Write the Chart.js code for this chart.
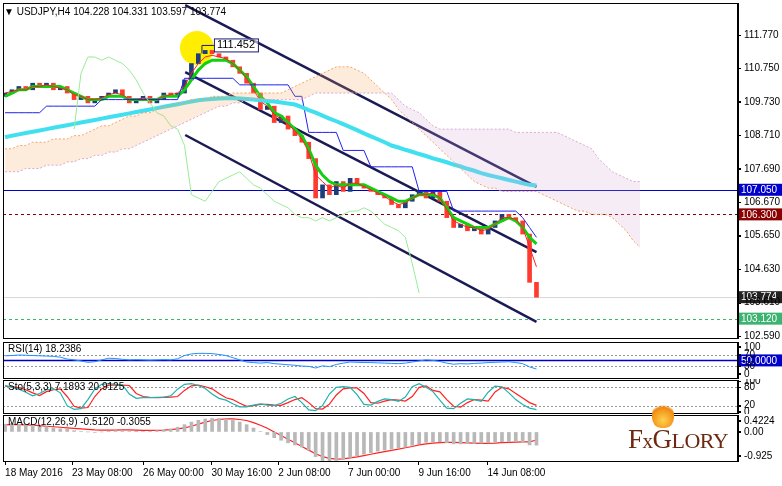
<!DOCTYPE html>
<html><head><meta charset="utf-8">
<script src="https://cdn.jsdelivr.net/npm/chart.js@4"></script>
<style>
body{margin:0;width:782px;height:486px;background:#fff;overflow:hidden;position:relative;font-family:"Liberation Sans",Arial,sans-serif}
canvas{position:absolute;left:0}
#logo{position:absolute;left:628px;top:424px;font-family:"Liberation Serif",serif;color:#6b2a10;font-size:27px;letter-spacing:-0.5px}
#flame{position:absolute;left:652px;top:402px;width:22px;height:26px;border-radius:50% 50% 40% 40%;background:radial-gradient(circle at 50% 70%,#ffd050,#f08a10 60%,rgba(240,138,16,0) 72%)}
</style></head><body>
<canvas id="cMain" width="782" height="340" style="top:0"></canvas>
<canvas id="cRsi" width="782" height="39" style="top:340px"></canvas>
<canvas id="cSto" width="782" height="35" style="top:379px"></canvas>
<canvas id="cMacd" width="782" height="72" style="top:414px"></canvas>
<div id="flame"></div>
<div id="logo">F<span style="font-size:21px">x</span>G<span style="font-size:22px">LORY</span></div>
<script>
const titleText="USDJPY,H4 104.228 104.331 103.597 103.774";
const priceTicks=[102.59,103.61,104.63,105.65,106.67,107.69,108.71,109.73,110.75,111.77];
const timeLabels=["18 May 2016","23 May 08:00","26 May 00:00","30 May 16:00","2 Jun 08:00","7 Jun 00:00","9 Jun 16:00","14 Jun 08:00"];
const timeLabelIdx=[0,9.7,20,29.9,39.6,49.7,59.9,69.9];
const closes=[110.0,110.1,110.2,110.1,110.3,110.2,110.3,110.1,110.2,110.0,109.8,109.9,109.7,109.8,109.9,110.0,110.1,109.9,109.7,109.8,109.9,109.7,109.8,110.0,109.9,110.0,110.4,110.9,111.2,111.3,111.2,111.1,111.0,110.8,110.6,110.3,110.0,109.5,109.6,109.1,109.3,108.9,108.7,108.5,108.0,106.8,107.2,106.9,107.3,107.0,107.4,107.2,107.1,107.0,106.9,106.8,106.6,106.5,106.7,106.9,107.0,106.8,107.0,106.7,106.2,105.9,106.0,105.8,105.9,105.7,105.9,106.1,106.3,106.2,106.1,105.7,104.228,103.774];
const opens=[109.9,110.0,110.1,110.2,110.1,110.3,110.2,110.3,110.1,110.2,110.0,109.8,109.9,109.7,109.8,109.9,110.0,110.1,109.9,109.7,109.8,109.9,109.7,109.8,110.0,109.9,110.0,110.4,110.9,111.2,111.3,111.2,111.1,111.0,110.8,110.6,110.3,110.0,109.5,109.6,109.1,109.3,108.9,108.7,108.5,108.0,106.8,107.2,106.9,107.3,107.0,107.4,107.2,107.1,107.0,106.9,106.8,106.6,106.5,106.7,106.9,107.0,106.8,107.0,106.7,106.2,105.9,106.0,105.8,105.9,105.7,105.9,106.1,106.3,106.2,106.1,105.7,104.228];
const maFast=[109.9,110.0,110.1,110.1,110.2,110.2,110.2,110.2,110.2,110.1,110.0,109.9,109.8,109.8,109.8,109.9,109.9,109.9,109.8,109.8,109.8,109.8,109.8,109.9,109.9,109.9,110.1,110.4,110.7,110.9,111.0,111.0,111.0,110.9,110.7,110.5,110.2,109.9,109.7,109.4,109.3,109.1,108.9,108.7,108.3,107.8,107.5,107.3,107.2,107.2,107.2,107.2,107.2,107.1,107.0,106.9,106.8,106.7,106.7,106.8,106.9,106.9,106.9,106.8,106.5,106.2,106.1,106.0,105.9,105.9,105.9,106.0,106.1,106.2,106.1,105.9,105.6,105.4];
const maRed=[110.0,110.05,110.1,110.1,110.2,110.2,110.25,110.2,110.15,110.1,109.95,109.9,109.8,109.8,109.85,109.95,110.0,109.95,109.8,109.8,109.85,109.8,109.8,109.9,109.95,110.0,110.2,110.6,110.9,111.1,111.15,111.1,111.05,110.9,110.7,110.45,110.1,109.75,109.6,109.35,109.2,109.05,108.85,108.6,108.2,107.5,107.3,107.1,107.2,107.1,107.25,107.25,107.15,107.05,106.95,106.85,106.7,106.6,106.65,106.8,106.9,106.9,106.95,106.8,106.45,106.1,106.0,105.9,105.9,105.8,105.85,106.0,106.2,106.2,106.15,105.9,105.3,104.7];
const kijun=[109.4,109.4,109.4,109.4,109.4,109.4,109.6,109.6,109.6,109.6,109.6,109.6,109.6,109.6,109.8,109.8,109.8,109.8,109.8,109.8,109.8,109.8,109.8,109.8,109.8,109.8,110.45,110.45,110.45,110.45,110.45,110.45,110.45,110.45,110.25,110.25,110.25,110.25,110.25,110.25,110.25,110.25,109.9,109.9,108.8,108.8,108.8,108.8,108.8,108.25,108.25,108.25,108.25,107.75,107.75,107.75,107.75,107.75,107.75,107.75,107.0,107.0,107.0,107.0,107.0,106.4,106.4,106.4,106.4,106.4,106.4,106.4,106.4,106.4,106.4,106.2,105.9,105.6];
const maSlow=[108.65,108.70,108.74,108.78,108.82,108.86,108.90,108.94,108.98,109.02,109.06,109.10,109.14,109.18,109.22,109.26,109.30,109.34,109.38,109.42,109.46,109.50,109.54,109.58,109.62,109.66,109.70,109.74,109.78,109.80,109.82,109.83,109.84,109.84,109.83,109.82,109.80,109.78,109.76,109.74,109.71,109.68,109.65,109.57,109.48,109.40,109.31,109.22,109.14,109.05,108.96,108.87,108.77,108.68,108.59,108.50,108.40,108.34,108.27,108.21,108.14,108.08,108.01,107.95,107.89,107.82,107.76,107.69,107.63,107.56,107.50,107.45,107.40,107.35,107.30,107.25,107.20,107.18];
const chikou=[null,null,null,null,null,null,null,null,null,null,108.9,110.6,111.1,111.1,111.0,111.1,111.0,110.9,110.7,110.4,110.0,109.7,109.4,109.3,109.0,108.9,108.4,106.9,106.8,106.7,107.0,107.3,107.4,107.5,107.6,107.4,107.2,107.1,106.9,106.7,106.6,106.5,106.3,106.2,106.2,106.1,106.2,106.1,106.2,106.3,106.4,106.4,106.5,106.4,106.2,106.0,105.9,105.8,105.6,104.8,103.9];
const spanA=[108.3,108.3,108.4,108.4,108.5,108.5,108.5,108.6,108.6,108.6,108.7,108.7,108.8,108.9,109.0,109.0,109.1,109.2,109.3,109.3,109.4,109.4,109.5,109.6,109.6,109.7,109.7,109.8,109.8,109.8,109.9,109.9,109.9,110.0,110.0,110.0,110.0,110.0,110.0,110.0,110.0,110.1,110.2,110.3,110.4,110.5,110.6,110.7,110.8,110.8,110.8,110.7,110.6,110.4,110.2,110.0,109.8,109.5,109.3,109.1,108.9,108.7,108.5,108.3,108.1,107.9,107.7,107.5,107.3,107.2,107.1,107.1,107.0,107.0,107.0,107.0,107.0,107.0,106.9,106.8,106.7,106.6,106.5,106.4,106.4,106.3,106.3,106.3,106.2,106.0,105.8,105.5,105.3];
const spanB=[107.6,107.6,107.6,107.7,107.7,107.7,107.8,107.8,107.8,107.9,107.9,108.0,108.0,108.1,108.1,108.2,108.2,108.3,108.3,108.4,108.5,108.6,108.7,108.8,108.9,109.0,109.1,109.2,109.3,109.4,109.5,109.6,109.6,109.7,109.7,109.8,109.8,109.8,109.8,109.8,109.8,109.8,109.8,109.8,109.9,110.0,110.0,110.0,110.0,110.0,110.0,110.0,110.0,110.0,110.0,110.0,110.0,109.8,109.6,109.5,109.4,109.2,109.0,108.9,108.9,108.9,108.9,108.9,108.9,108.9,108.9,108.9,108.9,108.9,108.8,108.8,108.8,108.8,108.8,108.8,108.8,108.7,108.6,108.5,108.4,108.3,108.0,107.8,107.6,107.5,107.4,107.3,107.3];
const chUpper=[[26.1,112.68],[77,107.14]];
const chMiddle=[[26.1,110.64],[77,105.15]];
const chLower=[[26.1,108.72],[77,103.02]];
const levels=[{v:107.05,c:"#0000cc",dash:[],box:"#0000cc",t:"107.050"},{v:106.30,c:"#8b0000",dash:[3,3],box:"#8b0000",t:"106.300"},{v:103.774,c:"#d8d8d8",dash:[],box:"#222",t:"103.774"},{v:103.12,c:"#3cb371",dash:[3,3],box:"#3cb371",t:"103.120"}];
const peak={i:27.8,v:111.37,label:"111.452",lv:111.452};
const rsiTicks=[100,70,30,0];
const rsi=[67,68,70,69,68,67,66,65,62,55,52,48,43,45,52,58,57,54,52,53,52,51,52,53,52,56,68,74,76,76,75,72,68,60,52,44,42,40,42,38,36,34,32,29,28,22,30,27,35,40,44,43,42,42,41,40,39,38,40,44,48,52,50,46,40,36,38,37,39,40,42,43,44,45,42,38,26,18.2];
const stoTicks=[100,80,20,0];
const stoD=[84,82,79,72,62,53,66,72,75,50,18,12,14,50,75,87,88,87,86,60,50,47,46,47,48,50,70,85,87,82,75,60,46,40,28,18,20,24,24,22,21,30,40,46,30,10,9,25,55,75,78,78,60,30,28,35,40,38,35,50,80,85,70,65,40,18,15,30,40,38,35,65,80,75,60,45,30,20.9];
const stoK=[86,80,74,64,52,60,72,76,62,20,8,10,40,74,90,92,90,88,58,44,46,46,47,48,52,74,90,92,86,76,58,44,38,26,16,16,22,26,22,20,28,42,50,30,6,4,20,58,80,82,80,56,24,22,34,42,40,34,48,82,92,80,66,38,12,10,28,42,40,34,64,84,82,62,40,24,12,7.2];
const macdTicks=[0.4224,0,-0.925];
const macdHist=[0.30,0.32,0.30,0.28,0.25,0.22,0.20,0.15,0.12,0.10,0.05,0.02,0.0,-0.02,0.0,0.03,0.05,0.04,0.02,0.01,0.02,0.03,0.05,0.08,0.12,0.18,0.28,0.38,0.45,0.50,0.52,0.52,0.50,0.46,0.38,0.28,0.15,0.02,-0.10,-0.22,-0.32,-0.42,-0.50,-0.58,-0.70,-0.95,-1.10,-1.12,-1.10,-1.05,-0.98,-0.92,-0.86,-0.80,-0.74,-0.70,-0.66,-0.62,-0.58,-0.52,-0.46,-0.40,-0.38,-0.38,-0.42,-0.46,-0.46,-0.45,-0.44,-0.43,-0.42,-0.40,-0.38,-0.36,-0.36,-0.40,-0.50,-0.51];
const macdSignal=[0.27,0.28,0.28,0.27,0.26,0.24,0.22,0.20,0.18,0.16,0.14,0.12,0.10,0.08,0.07,0.07,0.07,0.08,0.08,0.07,0.06,0.06,0.06,0.07,0.09,0.12,0.16,0.22,0.30,0.38,0.44,0.48,0.50,0.50,0.48,0.44,0.36,0.26,0.14,0.0,-0.14,-0.28,-0.42,-0.56,-0.70,-0.84,-0.95,-1.02,-1.05,-1.04,-1.0,-0.96,-0.91,-0.86,-0.81,-0.76,-0.71,-0.66,-0.61,-0.56,-0.50,-0.46,-0.43,-0.41,-0.40,-0.40,-0.41,-0.42,-0.43,-0.44,-0.44,-0.43,-0.41,-0.40,-0.39,-0.38,-0.38,-0.31];

const XMIN=-0.3,XMAX=106.2,FONT={family:"Liberation Sans",size:10};
const pts=a=>a.map((v,i)=>({x:i,y:v}));
const seg=a=>a.map(p=>({x:p[0],y:p[1]}));
function yScale(min,max,ticks){return{position:'right',min,max,afterFit:s=>{s.width=44},afterBuildTicks:s=>{s.ticks=ticks.map(v=>({value:v}))},
 ticks:{display:false},grid:{drawOnChartArea:false,color:'#000',tickLength:3},border:{color:'#000'}};}
function yLabels(ticks,fmt){return{id:'ylab',afterDraw(ch){const y=ch.scales.y,g=ch.ctx;g.save();g.font='10px "Liberation Sans"';g.fillStyle='#000';g.textBaseline='middle';g.textAlign='left';
 ticks.forEach(v=>{const p=y.getPixelForValue(v);g.fillText(fmt(v),ch.chartArea.right+6,p);g.fillRect(ch.chartArea.right,Math.round(p),3,1);});g.restore();}};}
function xHidden(){return{type:'linear',min:XMIN,max:XMAX,offset:false,display:false};}
const frame={id:'frame',afterDraw(ch){const a=ch.chartArea,g=ch.ctx;g.save();g.strokeStyle='#000';g.lineWidth=1;g.strokeRect(a.left+0.5,a.top+0.5,a.right-a.left-1,a.bottom-a.top);g.restore();}};
function textPlugin(txt){return{id:'txt',afterDraw(ch){const g=ch.ctx;g.save();g.font='10px "Liberation Sans"';g.fillStyle='#000';g.textBaseline='top';g.fillText(txt,8,ch.chartArea.top+2);g.restore();}};}
function boxLabel(g,y,t,bg,fg){g.fillStyle=bg;g.fillRect(739,y-6,43,12);g.fillStyle=fg;g.font='10px "Liberation Sans"';g.textBaseline='middle';g.textAlign='left';g.fillText(t,741,y+0.5);}
const line=(data,col,w,extra)=>Object.assign({type:'line',data,borderColor:col,borderWidth:w,pointRadius:0,fill:false,tension:0},extra||{});
const baseOpts=(pad,scales)=>({responsive:false,animation:false,layout:{padding:pad},plugins:{legend:{display:false},tooltip:{enabled:false}},scales});

const mainOverlay={id:'mainOverlay',
 beforeDatasetsDraw(ch){const y=ch.scales.y,a=ch.chartArea,g=ch.ctx;g.save();
  levels.forEach(l=>{const p=Math.round(y.getPixelForValue(l.v))+0.5;g.strokeStyle=l.c;g.lineWidth=1;g.setLineDash(l.dash);g.beginPath();g.moveTo(a.left,p);g.lineTo(a.right,p);g.stroke();});
  g.setLineDash([]);const x=ch.scales.x;g.fillStyle='#ffee00';g.beginPath();g.arc(x.getPixelForValue(peak.i),y.getPixelForValue(peak.v),17,0,Math.PI*2);g.fill();g.restore();},
 afterDraw(ch){const y=ch.scales.y,x=ch.scales.x,g=ch.ctx;g.save();
  levels.forEach(l=>boxLabel(g,y.getPixelForValue(l.v),l.t,l.box,'#fff'));
  const py=y.getPixelForValue(peak.lv),px=x.getPixelForValue(peak.i);
  g.strokeStyle='#1a1a7a';g.lineWidth=1;g.beginPath();g.moveTo(px+5,py+8);g.lineTo(px+5,py);g.lineTo(px+17,py);g.stroke();
  g.fillStyle='rgba(255,255,255,0.6)';g.fillRect(px+17,py-7,44,13);g.strokeRect(px+17.5,py-6.5,44,13);
  g.fillStyle='#000';g.font='11px "Liberation Sans"';g.textBaseline='middle';g.fillText(peak.label,px+20,py);
  g.font='10px "Liberation Sans"';g.fillStyle='#000';g.textBaseline='top';g.fillText('▼ '+titleText,4,7);
  g.restore();}};
const candleColors=closes.map((c,i)=>c>=opens[i]?'#1f3d7a':'#ff3b2f');
new Chart(document.getElementById('cMain'),{
 data:{datasets:[
  line(pts(spanA),'#f4a460',1,{borderDash:[2,2],fill:{target:'+1',above:'rgba(244,164,96,0.22)',below:'rgba(216,168,216,0.22)'}}),
  line(pts(spanB),'#d8a8d8',1,{borderDash:[2,2]}),
  line(pts(chikou),'#98ec98',1),
  line(pts(maSlow),'#40e0f0',4),
  line(pts(kijun),'#2020ee',1),
  line(pts(maRed),'#ff2020',1),
  line(pts(maFast),'#10d010',3),
  {type:'bar',data:closes.map((c,i)=>({x:i,y:[opens[i],c]})),backgroundColor:candleColors,barThickness:4,grouped:false},
  line(seg(chUpper),'#1a1a55',2.5),
  line(seg(chMiddle),'#1a1a55',2.5),
  line(seg(chLower),'#1a1a55',2.5)
 ]},
 options:baseOpts({left:3,top:3,bottom:2},{x:xHidden(),y:yScale(102.53,112.746,priceTicks)}),
 plugins:[frame,mainOverlay,yLabels(priceTicks,v=>v.toFixed(3))]});

const rsiPlug={id:'rsiPlug',beforeDatasetsDraw(ch){const y=ch.scales.y,a=ch.chartArea,g=ch.ctx;g.save();
  [70,30].forEach(v=>{const p=Math.round(y.getPixelForValue(v))+0.5;g.strokeStyle='#999';g.setLineDash([2,2]);g.beginPath();g.moveTo(a.left,p);g.lineTo(a.right,p);g.stroke();});
  g.setLineDash([]);const p=Math.round(y.getPixelForValue(50))+0.5;g.strokeStyle='#0000cc';g.lineWidth=1.5;g.beginPath();g.moveTo(a.left,p);g.lineTo(a.right,p);g.stroke();g.restore();},
 afterDraw(ch){boxLabel(ch.ctx,ch.scales.y.getPixelForValue(50),'50.0000','#0000cc','#fff');}};
new Chart(document.getElementById('cRsi'),{data:{datasets:[line(pts(rsi),'#1e90ff',1)]},
 options:baseOpts({left:3,top:2,bottom:1},{x:xHidden(),y:yScale(-15,118,rsiTicks)}),
 plugins:[frame,rsiPlug,yLabels(rsiTicks,v=>String(v)),textPlugin('RSI(14) 18.2386')]});

const stoPlug={id:'stoPlug',beforeDatasetsDraw(ch){const y=ch.scales.y,a=ch.chartArea,g=ch.ctx;g.save();
  [80,20].forEach(v=>{const p=Math.round(y.getPixelForValue(v))+0.5;g.strokeStyle='#999';g.setLineDash([2,2]);g.beginPath();g.moveTo(a.left,p);g.lineTo(a.right,p);g.stroke();});g.restore();}};
new Chart(document.getElementById('cSto'),{data:{datasets:[line(pts(stoK),'#20b2aa',1.2),line(pts(stoD),'#ff2020',1.2)]},
 options:baseOpts({left:3,top:1,bottom:1},{x:xHidden(),y:yScale(-4,104,stoTicks)}),
 plugins:[frame,stoPlug,yLabels(stoTicks,v=>String(v)),textPlugin('Sto(5,3,3) 7.1893 20.9125')]});

new Chart(document.getElementById('cMacd'),{data:{datasets:[
  {type:'bar',data:pts(macdHist),backgroundColor:'#b8b8b8',barThickness:3,grouped:false},
  line(pts(macdSignal),'#ff2020',1.2)]},
 options:baseOpts({left:3,top:1,bottom:0},{x:{type:'linear',min:XMIN,max:XMAX,offset:false,afterFit:s=>{s.height=25},afterBuildTicks:s=>{s.ticks=timeLabelIdx.map(v=>({value:v}))},
    ticks:{font:FONT,color:'#000',align:'start',maxRotation:0,autoSkip:false,padding:2,callback:(v,i)=>timeLabels[i]},
    grid:{drawOnChartArea:false,offset:false,color:'#000',tickLength:4},border:{color:'#000'}},
   y:yScale(-1.12,0.653,macdTicks)}),
 plugins:[frame,yLabels(macdTicks,v=>v===0?'0.00':String(v)),textPlugin('MACD(12,26,9) -0.5120 -0.3055')]});
</script></body></html>
